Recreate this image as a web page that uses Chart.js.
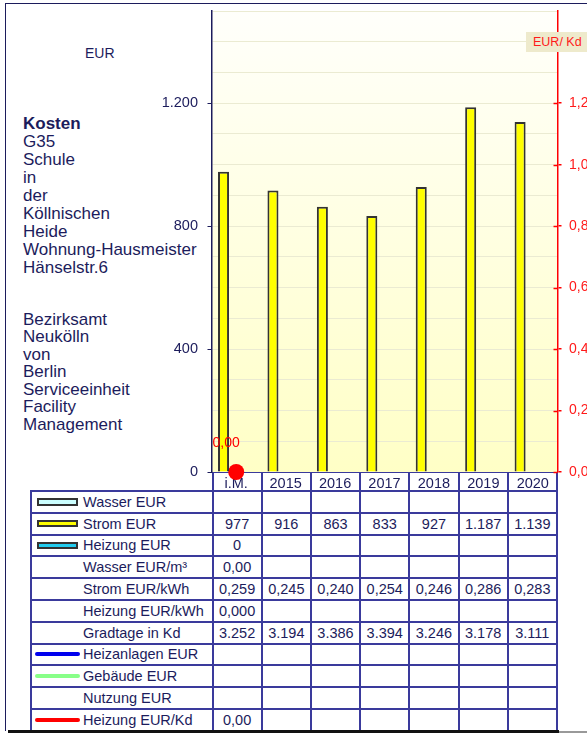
<!DOCTYPE html>
<html>
<head>
<meta charset="utf-8">
<script src="https://cdn.jsdelivr.net/npm/chart.js@4.4.0/dist/chart.umd.min.js"></script>
<style>
body { margin: 0; background: #fff; font-family: "Liberation Sans", Arial, sans-serif; color: #1c1c5c; }
#wrap { position: relative; width: 587px; height: 733px; overflow: hidden; }
#frame { position: absolute; left: 5px; top: 3px; width: 700px; height: 727px; border-left: 1.5px solid #1c1c5c; border-top: 1.5px solid #1c1c5c; }
#shadow { position: absolute; left: 8px; top: 730px; width: 551px; height: 3px; background: #111; }
#shadow2 { position: absolute; left: 559px; top: 731px; width: 40px; height: 2px; background: #999; }
#chart { position: absolute; left: 0; top: 0; z-index: 2; }
.txt { position: absolute; left: 23px; font-size: 17px; white-space: nowrap; }
#eur { position: absolute; left: 85px; top: 46px; font-size: 14px; line-height: 14px; }
#unit { position: absolute; left: 526px; top: 32px; width: 70px; height: 20px; line-height: 20px; background: #eeeacc; color: #ff1a1a; font-size: 12.5px; padding-left: 7px; z-index: 3; }
#tbl { position: absolute; left: 30px; top: 471px; border-collapse: collapse; table-layout: fixed; width: 528px; font-size: 14.5px; color: #1c1c5c; }
#tbl td { border: 2px solid #3a3a9c; padding: 0; text-align: center; white-space: nowrap; overflow: visible; }
#tbl tr.head td { height: 17px; }
#tbl tr.row td { height: 19.8px; }
#tbl td.lab { text-align: left; padding-left: 51px; position: relative; }
#tbl tr.head td.lab { border-top: none; border-left: none; }
.sw { position: absolute; left: 5px; top: 50%; margin-top: -3.75px; width: 37px; height: 3.5px; border: 2px solid #333; }
.ln { position: absolute; left: 3px; top: 50%; margin-top: -2px; width: 45px; height: 4px; border-radius: 2px; }
</style>
</head>
<body>
<div id="wrap">
  <div id="frame"></div>
  <div id="eur">EUR</div>
  <div class="txt" style="top:115.3px; line-height:18px;"><b>Kosten</b><br>G35<br>Schule<br>in<br>der<br>Köllnischen<br>Heide<br>Wohnung-Hausmeister<br>Hänselstr.6</div>
  <div class="txt" style="top:310.8px; line-height:17.5px;">Bezirksamt<br>Neukölln<br>von<br>Berlin<br>Serviceeinheit<br>Facility<br>Management</div>
  <div id="unit">EUR/ Kd</div>
  <table id="tbl">
    <colgroup><col style="width:181.5px"><col><col><col><col><col><col><col></colgroup>
    <tbody id="tblBody"></tbody>
  </table>
  <canvas id="chart" width="587" height="492"></canvas>
  <div id="shadow"></div>
  <div id="shadow2"></div>
</div>
<script>
const categories = ["i.M.", "2015", "2016", "2017", "2018", "2019", "2020"];

const wasserEur = [null, null, null, null, null, null, null];
const stromEur = [977, 916, 863, 833, 927, 1187, 1139];
const heizungEur = [0, null, null, null, null, null, null];
const wasserEurM3 = [0, null, null, null, null, null, null];
const stromEurKwh = [0.259, 0.245, 0.240, 0.254, 0.246, 0.286, 0.283];
const heizungEurKwh = [0, null, null, null, null, null, null];
const gradtage = [3252, 3194, 3386, 3394, 3246, 3178, 3111];
const heizanlagenEur = [null, null, null, null, null, null, null];
const gebaeudeEur = [null, null, null, null, null, null, null];
const nutzungEur = [null, null, null, null, null, null, null];
const heizungEurKd = [0, null, null, null, null, null, null];

const leftTicks = [0, 400, 800, 1200];
const rightTicks = [0, 0.2, 0.4, 0.6, 0.8, 1.0, 1.2];

const navy = "#1c1c5c";
const fontFamily = "'Liberation Sans', Arial, sans-serif";

const fmtInt = v => v == null ? "" : String(Math.round(v)).replace(/\B(?=(\d{3})+(?!\d))/g, ".");
const fmtDec = d => v => v == null ? "" : v.toFixed(d).replace(".", ",");

/* Table below the chart */

const tableRows = [
    { label: "Wasser EUR", swatch: "sw", color: "#ccffff", values: wasserEur, fmt: fmtInt },
    { label: "Strom EUR", swatch: "sw", color: "#ffff00", values: stromEur, fmt: fmtInt },
    { label: "Heizung EUR", swatch: "sw", color: "#22ccee", values: heizungEur, fmt: fmtInt },
    { label: "Wasser EUR/m³", values: wasserEurM3, fmt: fmtDec(2) },
    { label: "Strom EUR/kWh", values: stromEurKwh, fmt: fmtDec(3) },
    { label: "Heizung EUR/kWh", values: heizungEurKwh, fmt: fmtDec(3) },
    { label: "Gradtage in Kd", values: gradtage, fmt: fmtInt },
    { label: "Heizanlagen EUR", swatch: "ln", color: "#0000ee", values: heizanlagenEur, fmt: fmtInt },
    { label: "Gebäude EUR", swatch: "ln", color: "#88ff88", values: gebaeudeEur, fmt: fmtInt },
    { label: "Nutzung EUR", values: nutzungEur, fmt: fmtInt },
    { label: "Heizung EUR/Kd", swatch: "ln", color: "#ff0000", values: heizungEurKd, fmt: fmtDec(2) }
];

const tblBody = document.querySelector("#tblBody");

const headRow = document.createElement("tr");
headRow.className = "head";
headRow.innerHTML = `<td class="lab"></td>` + categories.map(() => "<td></td>").join("");
tblBody.appendChild(headRow);

tableRows.forEach(row => {
    const tr = document.createElement("tr");
    tr.className = "row";
    const sw = row.swatch ? `<span class="${row.swatch}" style="background:${row.color}"></span>` : "";
    tr.innerHTML = `<td class="lab">${sw}${row.label}</td>` +
        row.values.map(v => `<td>${row.fmt(v)}</td>`).join("");
    tblBody.appendChild(tr);
});

/* Plugins */

const plotBackground = {
    id: "plotBackground",
    beforeDraw(chart) {
        const { ctx, chartArea: a } = chart;
        const g = ctx.createLinearGradient(0, a.top, 0, a.bottom);
        g.addColorStop(0, "#fffffb");
        g.addColorStop(1, "#ffffc6");
        ctx.save();
        ctx.fillStyle = g;
        ctx.fillRect(a.left, a.top, a.right - a.left, a.bottom - a.top);
        ctx.restore();
    }
};

const innerTicks = {
    id: "innerTicks",
    afterDraw(chart) {
        const { ctx, chartArea: a } = chart;
        const s = chart.scales.y1;
        ctx.save();
        ctx.strokeStyle = "#ff0000";
        ctx.lineWidth = 1.5;
        s.ticks.forEach(t => {
            const y = Math.round(s.getPixelForValue(t.value)) + 0.5;
            ctx.beginPath();
            ctx.moveTo(a.right - 4, y);
            ctx.lineTo(a.right, y);
            ctx.stroke();
        });
        ctx.restore();
    }
};

const pointLabels = {
    id: "pointLabels",
    afterDatasetsDraw(chart) {
        const { ctx, chartArea: a } = chart;
        const meta = chart.getDatasetMeta(3);
        ctx.save();
        ctx.beginPath();
        ctx.rect(a.left + 0.5, 0, a.right - a.left, a.bottom);
        ctx.clip();
        ctx.fillStyle = "#ff0000";
        ctx.font = `14px ${fontFamily}`;
        ctx.textAlign = "right";
        ctx.textBaseline = "middle";
        meta.data.forEach((pt, i) => {
            const v = heizungEurKd[i];
            if (v == null) return;
            ctx.fillText(fmtDec(2)(v), pt.x + 3.5, pt.y - 28.5);
        });
        ctx.restore();
    }
};

/* Chart */

const barStyle = {
    borderColor: "#333333",
    borderWidth: 2,
    categoryPercentage: 0.77,
    barPercentage: 0.87,
    yAxisID: "y"
};

new Chart(document.querySelector("#chart"), {
    type: "bar",
    data: {
        labels: categories,
        datasets: [
            { label: "Strom EUR", data: stromEur, backgroundColor: "#ffff00", ...barStyle },
            { label: "Wasser EUR", data: wasserEur, backgroundColor: "#ccffff", ...barStyle },
            { label: "Heizung EUR", data: heizungEur, backgroundColor: "#22ccee", ...barStyle },
            {
                type: "line",
                label: "Heizung EUR/Kd",
                data: heizungEurKd,
                yAxisID: "y1",
                borderColor: "#ff0000",
                backgroundColor: "#ff0000",
                borderWidth: 3,
                pointRadius: 8,
                pointBorderWidth: 0,
                clip: false
            }
        ]
    },
    options: {
        responsive: false,
        animation: false,
        devicePixelRatio: 1,
        layout: { padding: { top: 11, left: 0, right: 0, bottom: 0 } },
        plugins: {
            legend: { display: false },
            tooltip: { enabled: false }
        },
        scales: {
            x: {
                ticks: {
                    color: navy,
                    font: { size: 14.5, family: fontFamily },
                    padding: 3,
                    autoSkip: false,
                    maxRotation: 0
                },
                grid: { display: false, drawTicks: false },
                border: { display: false },
                afterFit(s) { s.height = 20; s.paddingLeft = 0; s.paddingRight = 0; }
            },
            y: {
                position: "left",
                min: 0,
                max: 1500,
                ticks: {
                    stepSize: 100,
                    autoSkip: false,
                    padding: 9.5,
                    color: navy,
                    font: { size: 14.5, family: fontFamily },
                    callback: v => leftTicks.includes(v) ? fmtInt(v) : ""
                },
                grid: {
                    color: ctx => ctx.tick && ctx.tick.value === 0 ? "rgba(0,0,0,0)" : "#ebebd2",
                    tickColor: ctx => ctx.tick && leftTicks.includes(ctx.tick.value) ? navy : "rgba(0,0,0,0)",
                    tickLength: 4,
                    lineWidth: 1
                },
                border: { color: navy, width: 1.5 },
                afterFit(s) { s.width = 211.5; s.paddingTop = 0; s.paddingBottom = 0; }
            },
            y1: {
                position: "right",
                min: 0,
                max: 1.5,
                afterBuildTicks(s) { s.ticks = rightTicks.map(v => ({ value: v })); },
                ticks: {
                    padding: 7.5,
                    color: "#ff1a1a",
                    font: { size: 14, family: fontFamily },
                    callback: v => fmtDec(2)(v)
                },
                grid: {
                    drawOnChartArea: false,
                    tickColor: "#ff0000",
                    tickLength: 4,
                    lineWidth: 1.5
                },
                border: { color: "#ff0000", width: 1.5 },
                afterFit(s) { s.width = 29.5; s.paddingTop = 0; s.paddingBottom = 0; }
            }
        }
    },
    plugins: [plotBackground, innerTicks, pointLabels]
});
</script>
</body>
</html>
